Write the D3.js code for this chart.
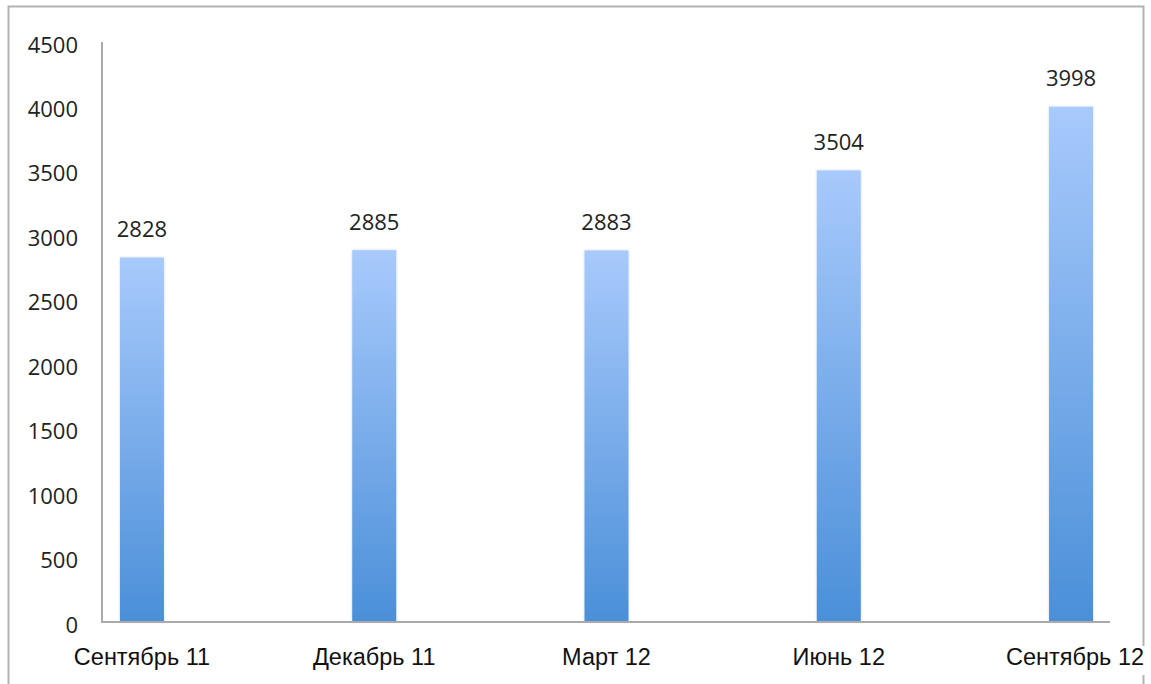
<!DOCTYPE html>
<html><head><meta charset="utf-8">
<script src="https://cdn.jsdelivr.net/npm/d3@7"></script>
<style>body{margin:0;background:#fff}svg{display:block}</style>
</head><body>
<svg id="c" width="1151" height="684"></svg>
<script>
const categories = ["Сентябрь 11","Декабрь 11","Март 12","Июнь 12","Сентябрь 12"];
const values = [2828, 2885, 2883, 3504, 3998];
const yTicks = [0,500,1000,1500,2000,2500,3000,3500,4000,4500];

const svg = d3.select("#c");
const defs = svg.append("defs");
const g = defs.append("linearGradient").attr("id","bg").attr("x1",0).attr("y1",0).attr("x2",0).attr("y2",1);
g.append("stop").attr("offset","0%").attr("stop-color","#a8cafc");
g.append("stop").attr("offset","100%").attr("stop-color","#4a8fd8");
const f = defs.append("filter").attr("id","sh").attr("x","-20%").attr("y","-5%").attr("width","140%").attr("height","110%");
f.append("feDropShadow").attr("dx",0).attr("dy",0).attr("stdDeviation",1.2).attr("flood-color","#000").attr("flood-opacity",0.18);

// outer frame
svg.append("path").attr("d","M8.5,684 V6.5 H1143.5 V684").attr("fill","none").attr("stroke","#b3b3b3").attr("stroke-width",2);

const x0 = 102, x1 = 1111, yTop = 42, yBot = 622;
const y = d3.scaleLinear().domain([0,4500]).range([yBot,yTop]);
const x = d3.scalePoint().domain(categories).range([x0,x1]).padding(0.172);
const bw = 44;

// bars
svg.append("g").selectAll("rect").data(values).join("rect")
  .attr("x",(d,i)=>x(categories[i])-bw/2).attr("width",bw)
  .attr("y",d=>y(d)).attr("height",d=>yBot-y(d))
  .attr("fill","url(#bg)").attr("filter","url(#sh)");

// axes lines
svg.append("line").attr("x1",x0).attr("x2",x0).attr("y1",yTop).attr("y2",yBot+1).attr("stroke","#aaa").attr("stroke-width",2);
svg.append("line").attr("x1",x0).attr("x2",1110).attr("y1",yBot).attr("y2",yBot).attr("stroke","#aaa").attr("stroke-width",2);

// y tick labels
const yAxis = d3.axisLeft(y).tickValues(yTicks).tickSize(0).tickPadding(0).tickFormat(d3.format("d"));
const ya = svg.append("g").attr("transform","translate(78,3)").call(yAxis);
ya.select(".domain").remove();
ya.selectAll("text").attr("font-family","'Open Sans'").attr("font-size",22).attr("fill","#222");

// value labels
svg.append("g").selectAll("text").data(values).join("text")
  .attr("x",(d,i)=>x(categories[i])).attr("y",d=>y(d)-20.5)
  .attr("text-anchor","middle").attr("font-family","'Open Sans'").attr("font-size",22).attr("fill","#222")
  .text(d=>d);

// x labels with white background
const xl = svg.append("g").selectAll("g").data(categories).join("g")
  .attr("transform",(d,i)=>`translate(${x(d) + (i===categories.length-1?4:0)},665)`);
xl.append("text").attr("text-anchor","middle").attr("font-family","'Liberation Sans', Arial").attr("font-size",23.5).attr("fill","#111").text(d=>d)
  .each(function(){
    const b = this.getBBox();
    d3.select(this.parentNode).insert("rect","text").attr("x",b.x-1).attr("y",b.y+2).attr("width",b.width+2).attr("height",b.height+3).attr("fill","#fff");
  });
</script>
</body></html>
